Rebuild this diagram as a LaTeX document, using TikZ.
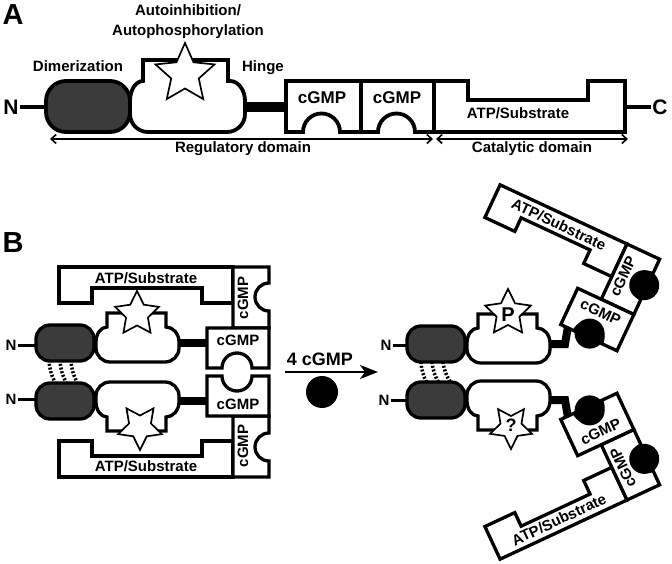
\documentclass[tikz,border=0pt]{standalone}
\usepackage{fontspec}
\setmainfont{Liberation Sans}
\usetikzlibrary{arrows.meta}
\definecolor{domgray}{HTML}{3B3B3B}
\newcommand\fsz[1]{\fontsize{#1}{#1}\selectfont\bfseries}
\tikzset{
 olA/.style={draw=black,line width=3.8pt,fill=white,line join=miter},
 olB/.style={draw=black,line width=3.3pt,fill=white,line join=miter},
 dimA/.style={draw=black,line width=3.8pt,fill=domgray,rounded corners=20pt},
 dimB/.style={draw=black,line width=3.3pt,fill=domgray,rounded corners=14pt},
 hingeA/.style={line width=10pt},
 hingeB/.style={line width=8pt,line join=miter},
 starsty/.style={draw=black,line width=1.7pt,fill=white,line join=miter},
 txt/.style={inner sep=0pt,font=\fsz{15}},
 nline/.style={line width=3pt},
 domarrow/.style={line width=1.6pt,{Straight Barb[length=5pt,width=9pt]}-{Straight Barb[length=5pt,width=9pt]}},
 links/.style={line width=3.5pt,dash pattern=on 2pt off 1.8pt},
 rxarrow/.style={line width=2.2pt,-{Stealth[length=18pt,width=14pt,inset=5pt]}},
}
\newcommand\drawstar[4]{%
 \draw[starsty] (#1,#2) +(-90:#3) -- +(-54:#4) -- +(-18:#3) -- +(18:#4) -- +(54:#3) -- +(90:#4) -- +(126:#3) -- +(162:#4) -- +(198:#3) -- +(234:#4) -- cycle;}
\newcommand\drawstarinv[4]{%
 \draw[starsty] (#1,#2) +(90:#3) -- +(126:#4) -- +(162:#3) -- +(198:#4) -- +(234:#3) -- +(270:#4) -- +(306:#3) -- +(342:#4) -- +(18:#3) -- +(54:#4) -- cycle;}
\newcommand\cloudB{%
 \draw[olB] (107,313) -- (166,313) -- (166,327) arc[start angle=270,end angle=360,x radius=13,y radius=15] -- (179,348) arc[start angle=0,end angle=90,radius=14] -- (110,362) arc[start angle=90,end angle=180,radius=14] -- (96,342) arc[start angle=180,end angle=270,x radius=11,y radius=15] -- cycle;}
\newcommand\catasm[5]{%
 \draw[olB] (-#1,0) -- (0,0) -- (0,36) -- (-31,36) -- (-31,21) -- ({-#1+33},21) -- ({-#1+33},36) -- (-#1,36) -- cycle;
 \draw[olB] (0,0) -- (36,0) -- (36,16) arc[start angle=270,end angle=90,radius=14] -- (36,61) -- (0,61) -- cycle;
 \draw[olB] (-26,61) -- (36,61) -- (36,101) -- (19,101) arc[start angle=0,end angle=-180,radius=15] -- (-26,101) -- cycle;
 \node[txt,rotate=#2] (atp#5) at ({-#1/2},11) {ATP/Substrate};
 \node[txt,rotate=#3] (cv#5) at (10,31) {cGMP};
 \node[txt,rotate=#4] (ch#5) at (5,73) {cGMP};
}
\newcommand\halfB[7]{%
 \draw[hingeB] (175,343) -- (212,343);
 \draw[dimB] (36,325) rectangle (94,361);
 \cloudB
 \begin{scope}[shift={(233,267)}]\catasm{174}{#1}{#2}{#3}{l#7}\end{scope}
 \begin{scope}[shift={(627,244)},rotate=25]\coordinate (hr#7) at (-24,80);\end{scope}
 \draw[hingeB] (546,344) -- (565,344) -- (hr#7);
 \begin{scope}[shift={(371,1)}]
   \draw[dimB] (36,325) rectangle (94,361);
   \cloudB
 \end{scope}
 \begin{scope}[shift={(627,244)},rotate=25]
   \catasm{140}{#4}{#5}{#6}{r#7}
   \fill (4,97) circle (15);
   \fill (33,30) circle (15);
 \end{scope}
}
\begin{document}
\begin{tikzpicture}[x=1pt,y=1pt,yscale=-1]
\useasboundingbox (0,0) rectangle (672,564);
% ---------- Panel A ----------
\node[font=\fsz{29},inner sep=0pt,anchor=base] (labA) at (13,25) {A};
\node[txt,anchor=base] (tDim) at (78,72) {Dimerization};
\node[txt,anchor=base] (tAuto1) at (188,16) {Autoinhibition/};
\node[txt,anchor=base] (tAuto2) at (188,36) {Autophosphorylation};
\node[txt,anchor=base] (tHinge) at (263,72) {Hinge};
\node[font=\fsz{21},inner sep=1pt] (nA) at (11,107) {N};
\coordinate (dimAL) at (46,107);
\draw[line width=3.5pt] (nA.east) -- (dimAL);
\draw[hingeA] (240,107) -- (290,107);
\draw[dimA] (46,81) rectangle (130,132);
\draw[olA] (143,60) -- (228,60) -- (228,81) -- (230,81) arc[start angle=270,end angle=360,x radius=15,y radius=20] -- (245,114) arc[start angle=0,end angle=90,radius=18] -- (148,132) arc[start angle=90,end angle=180,radius=18] -- (130,101) arc[start angle=180,end angle=270,x radius=13,y radius=20] -- cycle;
\drawstar{185}{74}{31}{14.5}
\draw[olA] (286,81) -- (361,81) -- (361,132) -- (340,132) arc[start angle=0,end angle=-180,radius=18.5] -- (286,132) -- cycle;
\draw[olA] (361,81) -- (434,81) -- (434,132) -- (415,132) arc[start angle=0,end angle=-180,radius=18.5] -- (361,132) -- cycle;
\draw[olA] (434,81) -- (468,81) -- (468,100) -- (588,100) -- (588,81) -- (625,81) -- (625,132) -- (434,132) -- cycle;
\node[font=\fsz{21},inner sep=1pt] (cA) at (660,107) {C};
\coordinate (catAR) at (625,107);
\draw[line width=3.5pt] (catAR) -- (cA.west);
\node[font=\fsz{17},inner sep=0pt] (cg1) at (322,98) {cGMP};
\node[font=\fsz{17},inner sep=0pt] (cg2) at (397,98) {cGMP};
\node[txt,anchor=base] (atpA) at (518,119) {ATP/Substrate};
\coordinate (regL) at (50,139); \coordinate (regR) at (433,139);
\coordinate (catL) at (436,139); \coordinate (catR) at (628,139);
\draw[domarrow] (regL) -- (regR);
\draw[domarrow] (catL) -- (catR);
\node[txt,anchor=base] (tReg) at (243,153) {Regulatory domain};
\node[txt,anchor=base] (tCat) at (532,153) {Catalytic domain};
% ---------- Panel B ----------
\node[font=\fsz{29},inner sep=0pt,anchor=base] (labB) at (13,252) {B};
\draw[links] (49,360) to[bend left=12] (55,382);
\draw[links] (60,360) to[bend left=12] (66,382);
\draw[links] (71,360) to[bend left=12] (77,382);
\draw[links] (421,362) to[bend left=12] (427,383);
\draw[links] (432,362) to[bend left=12] (439,383);
\draw[links] (443,362) to[bend left=12] (451,383);
\halfB{0}{90}{0}{-25}{65}{-25}{t}
\begin{scope}[shift={(0,744)},yscale=-1]
\halfB{0}{90}{0}{25}{115}{25}{b}
\end{scope}
\drawstar{137}{314}{23}{11.5}
\drawstarinv{140}{427}{23}{11.5}
\drawstar{508}{313}{24}{12}
\drawstarinv{511}{427}{22}{11}
\node[font=\fsz{20},inner sep=0pt] (pP) at (508,315) {P};
\node[font=\fsz{18},inner sep=0pt] (pQ) at (511,425) {?};
\node[font=\fsz{15},inner sep=1pt] (nB1) at (11,345) {N};
\node[font=\fsz{15},inner sep=1pt] (nB2) at (11,399) {N};
\node[font=\fsz{15},inner sep=1pt] (nB3) at (386,345) {N};
\node[font=\fsz{15},inner sep=1pt] (nB4) at (384,400) {N};
\coordinate (d1) at (37,345); \coordinate (d2) at (37,399);
\coordinate (d3) at (408,345); \coordinate (d4) at (408,400);
\draw[nline] (nB1.east) -- (d1);
\draw[nline] (nB2.east) -- (d2);
\draw[nline] (nB3.east) -- (d3);
\draw[nline] (nB4.east) -- (d4);
\coordinate (rxa) at (285,372); \coordinate (rxb) at (378,372);
\draw[rxarrow] (rxa) -- (rxb);
\node[font=\fsz{18},inner sep=0pt,anchor=base] (t4c) at (320,365) {4 cGMP};
\node[circle,fill=black,inner sep=0pt,minimum size=32pt] (dot) at (322,392) {};
\end{tikzpicture}
\end{document}
